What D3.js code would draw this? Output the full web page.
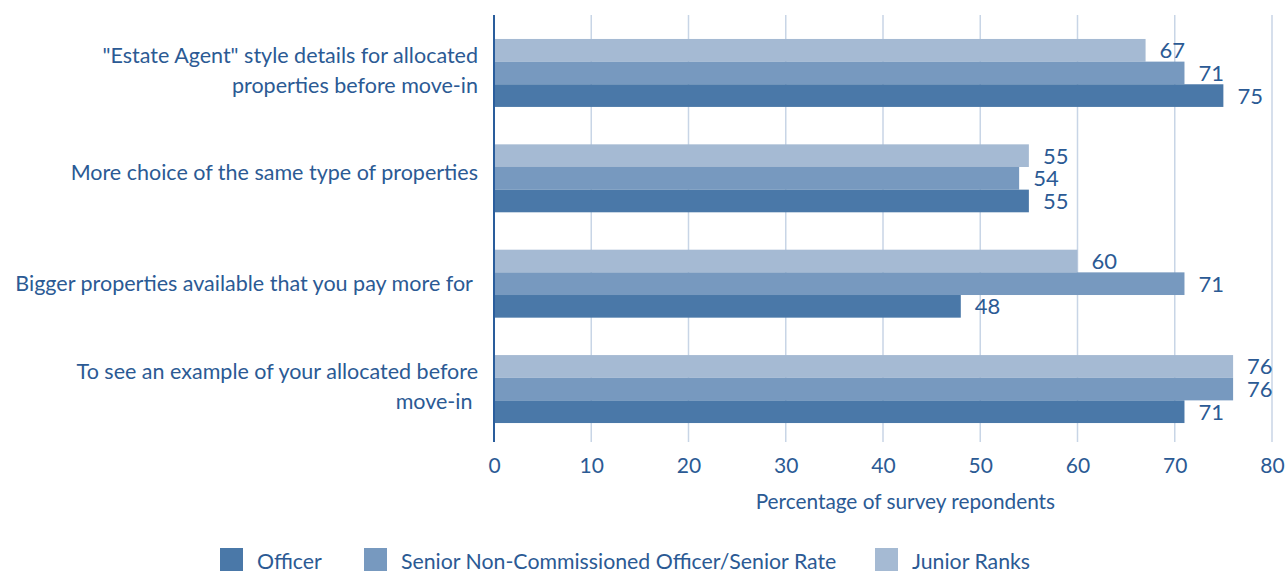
<!DOCTYPE html>
<html>
<head>
<meta charset="utf-8">
<script src="https://cdn.jsdelivr.net/npm/d3@7/dist/d3.min.js"></script>
<style>
  html, body { margin: 0; padding: 0; background: #fff; }
  svg { display: block; font-family: Lato, "Open Sans", sans-serif; }
  text { white-space: pre; }
</style>
</head>
<body>
<svg id="chart" width="1288" height="572"></svg>
<script>
// Survey items, each a list of label lines
const categories = [
  ["\"Estate Agent\" style details for allocated", "properties before move-in"],
  ["More choice of the same type of properties"],
  ["Bigger properties available that you pay more for "],
  ["To see an example of your allocated before", "move-in "]
];
const seriesNames = ["Junior Ranks", "Senior Non-Commissioned Officer/Senior Rate", "Officer"];
const juniorRanks = [67, 55, 60, 76];
const seniorRate  = [71, 54, 71, 76];
const officer     = [75, 55, 48, 71];
const xTicks = [0, 10, 20, 30, 40, 50, 60, 70, 80];
const legendOrder = ["Officer", "Senior Non-Commissioned Officer/Senior Rate", "Junior Ranks"];

const colors = {
  "Officer": "#4a78a8",
  "Senior Non-Commissioned Officer/Senior Rate": "#7799bf",
  "Junior Ranks": "#a5bad3"
};
const textColor = "#2b5a94";
const labelNudge = [-2, -6, 0, -3];

const svg = d3.select("#chart");
const x = d3.scaleLinear().domain([0, 80]).range([494, 1272]);
const y = d3.scaleBand().domain(d3.range(categories.length)).range([20, 442]).paddingInner(0.355).paddingOuter(0.18);
const ySub = d3.scaleBand().domain(seriesNames).range([0, y.bandwidth()]);

const valuesBySeries = {
  "Junior Ranks": juniorRanks,
  "Senior Non-Commissioned Officer/Senior Rate": seniorRate,
  "Officer": officer
};

// grid lines
svg.append("g")
  .selectAll("line")
  .data(xTicks.slice(1))
  .join("line")
  .attr("x1", d => x(d)).attr("x2", d => x(d))
  .attr("y1", 15).attr("y2", 442)
  .attr("stroke", "#c8d5e6").attr("stroke-width", 1.5);

// bars
const groups = svg.append("g")
  .selectAll("g")
  .data(categories.map((c, i) => i))
  .join("g")
  .attr("transform", i => `translate(0,${y(i)})`);

groups.selectAll("rect")
  .data(i => seriesNames.map(s => ({ s, v: valuesBySeries[s][i] })))
  .join("rect")
  .attr("x", x(0))
  .attr("y", d => ySub(d.s))
  .attr("width", d => x(d.v) - x(0))
  .attr("height", ySub.bandwidth())
  .attr("fill", d => colors[d.s]);

groups.selectAll("text.val")
  .data(i => seriesNames.map(s => ({ s, v: valuesBySeries[s][i] })))
  .join("text")
  .attr("class", "val")
  .attr("x", d => x(d.v) + 14)
  .attr("y", d => ySub(d.s) + ySub.bandwidth() / 2)
  .attr("dy", "0.36em")
  .attr("fill", textColor)
  .attr("font-size", 22)
  .text(d => d.v);

// zero axis line
svg.append("line")
  .attr("x1", x(0)).attr("x2", x(0))
  .attr("y1", 15).attr("y2", 442)
  .attr("stroke", "#2a5d9c").attr("stroke-width", 2);

// x axis tick labels
const xAxis = d3.axisBottom(x).tickValues(xTicks).tickSize(0).tickPadding(0);
const ax = svg.append("g").attr("transform", "translate(0,458)").call(xAxis);
ax.select(".domain").remove();
ax.selectAll("text").attr("font-size", 21).attr("fill", textColor).attr("font-family", "Lato, sans-serif");

svg.append("text")
  .attr("x", x(42.3)).attr("y", 509)
  .attr("text-anchor", "middle")
  .attr("font-size", 20.8)
  .attr("fill", textColor)
  .text("Percentage of survey repondents");

// category labels
const catLabels = svg.append("g")
  .selectAll("text")
  .data(categories)
  .join("text")
  .attr("text-anchor", "end")
  .attr("font-size", 21.5)
  .attr("fill", textColor)
  .attr("transform", (c, i) => `translate(478,${y(i) + y.bandwidth() / 2 - (c.length - 1) * 15 + labelNudge[i]})`);
catLabels.selectAll("tspan")
  .data(c => c)
  .join("tspan")
  .attr("x", 0)
  .attr("y", (d, k) => k * 30)
  .attr("dy", "0.35em")
  .text(d => d);

// legend
const legendX = [220, 364, 875];
const legend = svg.append("g")
  .selectAll("g")
  .data(legendOrder)
  .join("g")
  .attr("transform", (d, i) => `translate(${legendX[i]},548)`);
legend.append("rect").attr("width", 23).attr("height", 23).attr("fill", d => colors[d]);
legend.append("text")
  .attr("x", 37).attr("y", 21)
  .attr("font-size", 21.3)
  .attr("fill", textColor)
  .text(d => d);
</script>
</body>
</html>
